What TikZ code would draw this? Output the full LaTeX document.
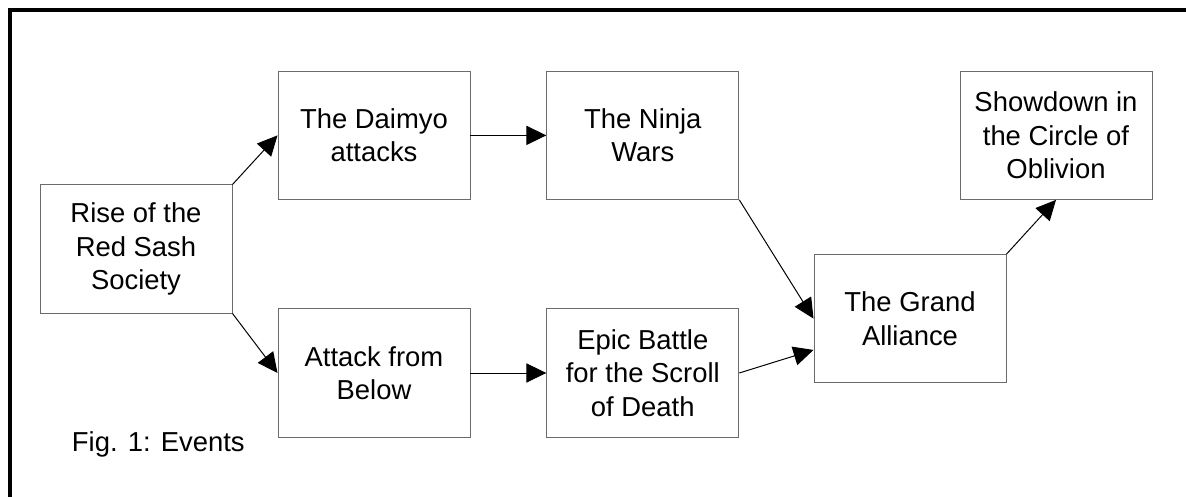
\documentclass[tikz,border=0pt]{standalone}
\usepackage{fontspec}
\setmainfont{Liberation Sans}
\usetikzlibrary{arrows.meta}

\begin{document}
\begin{tikzpicture}
%\draw[help lines] (0,0) grid (30,12);
\tikzstyle{v}=[rectangle,draw=black!58,line width=0.7pt,inner sep=0mm,align=center,minimum width=48mm,minimum height=32mm,font=\fontsize{19.5}{23.8}\selectfont]
\tikzstyle{ar}=[draw=black,line width=0.7pt,-{Triangle[length=5mm,width=4.8mm]}]

\useasboundingbox (0,0) rectangle (29.65,12.425);
\draw[line width=2.5pt] (0.25,0) -- (0.25,12.175) -- (29.65,12.175);

\node[v] (rise) at (3.4,6.2) {Rise of the\\Red Sash\\Society};

\node[v] (daimyo) at (9.35,9.04) {The Daimyo\\attacks};

\node[v] (ninja) at (16.07,9.04) {The Ninja\\Wars};

\node[v] (below) at (9.35,3.1) {Attack from\\Below};

\node[v] (epic) at (16.07,3.1) {Epic Battle\\for the Scroll\\of Death};

\node[v] (grand) at (22.75,4.46) {The Grand\\Alliance};

\node[v] (show) at (26.4,9.04) {Showdown in\\the Circle of\\Oblivion};

\node[anchor=base west,font=\fontsize{19.5}{23.8}\selectfont] (fig) at (1.675,1.125) {Fig. 1: Events};

\path (rise.north east) edge[ar] (daimyo.west);
\path (rise.south east) edge[ar] (below.west);
\path (daimyo.east) edge[ar] (ninja.west);
\path (below.east) edge[ar] (epic.west);
\path (ninja.south east) edge[ar] (grand.west);
\path (epic.east) edge[ar] (grand.198);
\path (grand.north east) edge[ar] (show.south);
\end{tikzpicture}
\end{document}
